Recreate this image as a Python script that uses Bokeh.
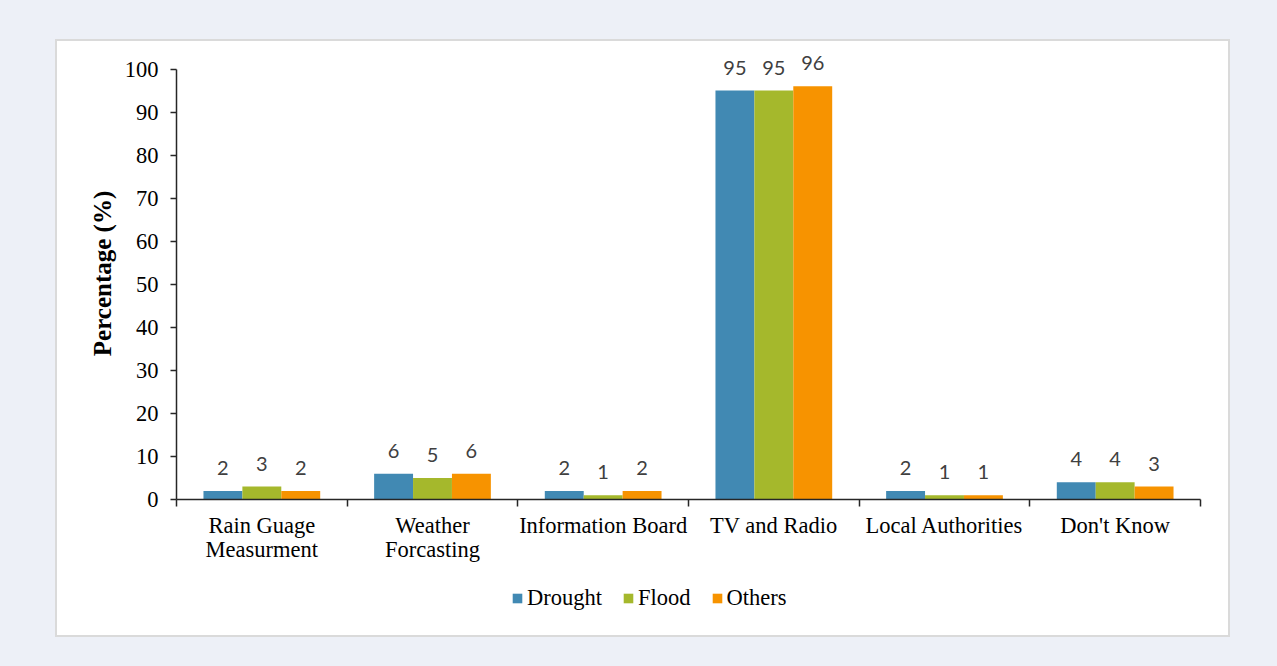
from bokeh.plotting import figure
from bokeh.models import (Range1d, FixedTicker, Legend, LegendItem, ColumnDataSource)
from bokeh.layouts import column
from bokeh.core.properties import value
from bokeh.embed import file_html
from bokeh.resources import INLINE

# Sources of early-warning information, share of respondents (%)
categories = ["Rain Guage\nMeasurment", "Weather\nForcasting", "Information Board",
              "TV and Radio", "Local Authorities", "Don't Know"]
drought = [2, 6, 2, 95, 2, 4]
flood = [3, 5, 1, 95, 1, 4]
others = [2, 6, 2, 96, 1, 3]
series_names = ["Drought", "Flood", "Others"]
series_colors = ["#4189b3", "#a5b82c", "#f79300"]
y_ticks = list(range(0, 101, 10))

SERIF = "Liberation Serif"
TICK_SIZE = "22.5px"
BAR_W = 0.228

p = figure(width=1171, height=534,
           x_range=Range1d(0, len(categories)), y_range=Range1d(0, 105),
           output_backend="svg", toolbar_location=None,
           min_border_left=119, min_border_right=28,
           min_border_top=6, min_border_bottom=76,
           background_fill_color="white", border_fill_color="white",
           outline_line_color=None)
p.grid.visible = False

centers = [i + 0.5 for i in range(len(categories))]
offsets = [-BAR_W, 0.0, BAR_W]
for vals, color, off in zip([drought, flood, others], series_colors, offsets):
    src = ColumnDataSource(dict(x=[c + off for c in centers], top=vals,
                                lab=[str(v) for v in vals]))
    p.vbar(x="x", top="top", width=BAR_W, source=src,
           fill_color=color, line_color=None)
    p.text(x="x", y="top", text="lab", source=src, text_align="center",
           text_baseline="middle", y_offset=-23,
           text_font=value("Lato"), text_font_size="20px",
           text_color="#404040")

# x axis: labels at group centres, tick marks at group boundaries
xa = p.xaxis[0]
xa.ticker = FixedTicker(ticks=centers, minor_ticks=list(range(len(categories) + 1)))
xa.major_label_overrides = {c: lab for c, lab in zip(centers, categories)}
xa.major_tick_line_color = None
xa.minor_tick_line_color = "#262626"
xa.minor_tick_line_width = 1.5
xa.minor_tick_in = 0
xa.minor_tick_out = 7
xa.axis_line_color = "#262626"
xa.axis_line_width = 1.5
xa.major_label_text_font = SERIF
xa.major_label_text_font_size = TICK_SIZE
xa.major_label_text_color = "black"
xa.major_label_text_line_height = 0.96
xa.major_label_standoff = 6

ya = p.yaxis[0]
ya.ticker = FixedTicker(ticks=y_ticks, minor_ticks=[])
ya.bounds = (0, 100)
ya.axis_line_color = "#262626"
ya.axis_line_width = 1.5
ya.major_tick_line_color = "#262626"
ya.major_tick_line_width = 1.5
ya.major_tick_in = 0
ya.major_tick_out = 6
ya.minor_tick_line_color = None
ya.major_label_text_font = SERIF
ya.major_label_text_font_size = TICK_SIZE
ya.major_label_text_color = "black"
ya.major_label_standoff = 12
ya.axis_label = "Percentage (%)"
ya.axis_label_text_font = SERIF
ya.axis_label_text_font_style = "bold"
ya.axis_label_text_font_size = "25px"
ya.axis_label_text_color = "black"
ya.axis_label_standoff = 6

# legend strip underneath the chart; its swatch renderers hold no visible data
leg = figure(width=1171, height=60, x_range=Range1d(0, 1), y_range=Range1d(0, 1),
             output_backend="svg", toolbar_location=None, min_border=0,
             background_fill_color="white", border_fill_color="white",
             outline_line_color=None)
leg.axis.visible = False
leg.grid.visible = False
items = []
for name, color in zip(series_names, series_colors):
    swatch = ColumnDataSource(dict(x=[float("nan")], top=[float("nan")]))
    r = leg.vbar(x="x", top="top", width=1, source=swatch,
                 fill_color=color, line_color=None)
    items.append(LegendItem(label=name, renderers=[r]))
legend = Legend(items=items, orientation="horizontal", location=(335, 24),
                glyph_width=12, glyph_height=12, label_standoff=4, spacing=20,
                label_text_font=SERIF, label_text_font_size=TICK_SIZE,
                label_text_color="black", border_line_color=None,
                background_fill_alpha=0, padding=0, margin=0)
leg.add_layout(legend, "center")

panel = column(p, leg, spacing=0,
               styles={"background-color": "white", "box-shadow": "0 0 0 2px #dadada"})
panel.margin = (41, 49, 31, 57)
page = column(panel, styles={"background-color": "#edf0f7"})
open("out.html", "w").write(file_html(page, INLINE))
